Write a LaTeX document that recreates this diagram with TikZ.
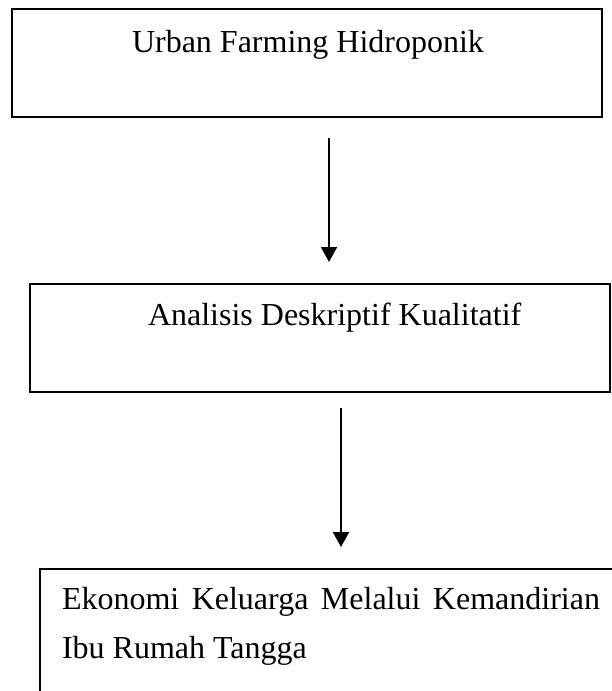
\documentclass[tikz,border=0pt]{standalone}
\usepackage{fontspec}
\setmainfont{Liberation Serif}
\usetikzlibrary{arrows.meta}
\tikzset{
  box/.style={draw, line width=1.6pt, inner sep=0pt, outer sep=0pt, anchor=north west},
  lbl/.style={inner sep=0pt, outer sep=0pt, font=\fontsize{32}{49}\selectfont},
  arr/.style={line width=2pt, -{Triangle[length=15pt,width=16pt]}}
}
\begin{document}
\begin{tikzpicture}[x=1pt,y=-1pt]
\clip (0,0) rectangle (612,691);
\fill[white] (0,0) rectangle (612,691);
\node[box, minimum width=590pt, minimum height=108pt] (box1) at (12,9) {};
\node[box, minimum width=580pt, minimum height=108pt] (box2) at (30,284) {};
\node[box, minimum width=620pt, minimum height=200pt] (box3) at (40,569) {};
\node[lbl, anchor=base] (t1) at (308,52) {Urban Farming Hidroponik};
\node[lbl, anchor=base west] (t2) at (148,325) {Analisis Deskriptif Kualitatif};
\node[lbl, anchor=base west] (t3a) at (62,609) {\makebox[538pt][s]{Ekonomi Keluarga Melalui Kemandirian}};
\node[lbl, anchor=base west] (t3b) at (62,658) {Ibu Rumah Tangga};
\coordinate (c1) at (329,0);
\coordinate (c2) at (341,0);
\draw[arr, shorten <=21pt, shorten >=22pt] (box1.south -| c1) -- (box2.north -| c1);
\draw[arr, shorten <=16pt, shorten >=22pt] (box2.south -| c2) -- (box3.north -| c2);
\end{tikzpicture}
\end{document}
